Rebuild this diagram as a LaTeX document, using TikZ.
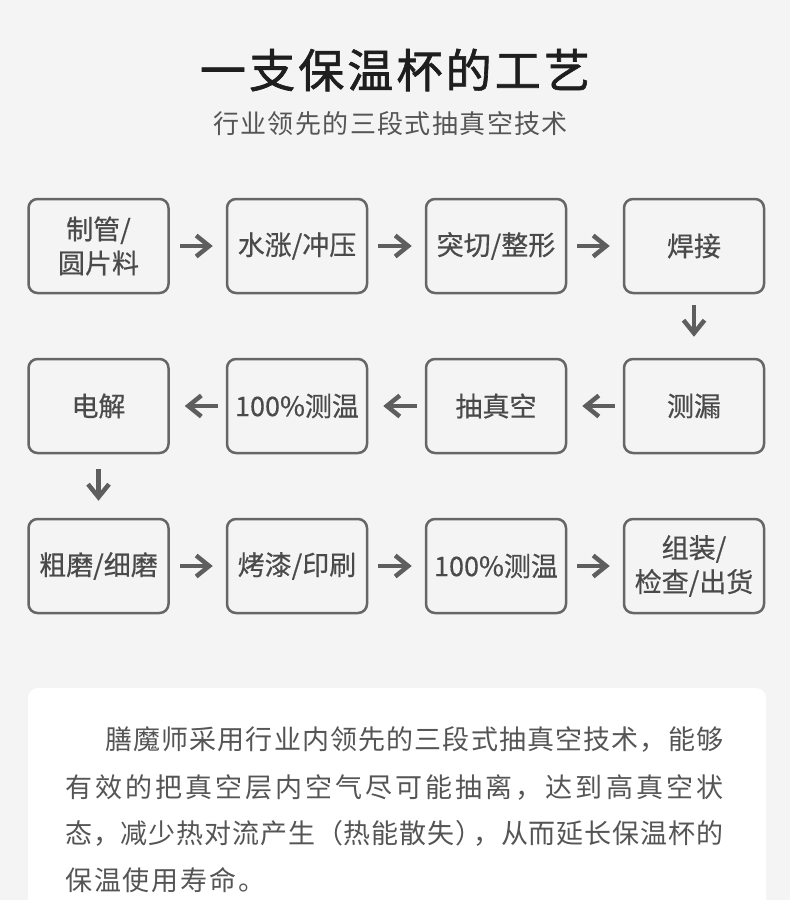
\documentclass[tikz,border=0pt]{standalone}
\usepackage{fontspec}
\setmainfont{Noto Sans CJK SC}
\newfontfamily\titlefont[FakeBold=1.4]{Noto Sans CJK SC}
\newfontfamily\boxfont[FakeBold=0.5]{Noto Sans CJK SC}
\usetikzlibrary{arrows.meta}
\definecolor{bg}{HTML}{F4F4F4}
\definecolor{boxc}{HTML}{666666}
\definecolor{arrc}{HTML}{5E5E5E}
\definecolor{txtc}{HTML}{4A4A4A}
\definecolor{titlec}{HTML}{1E1E1E}
\definecolor{subc}{HTML}{555555}
\definecolor{parac}{HTML}{555555}
\makeatletter
\def\jl@end{\jl@end@}
\def\jline#1{\let\jl@sep\relax\jl@loop#1\jl@end}
\def\jl@loop#1{\ifx#1\jl@end\else\jl@sep\let\jl@sep\hfil#1\expandafter\jl@loop\fi}
\makeatother
\def\negk{\kern-11pt}
\tikzset{
  stepbox/.style={draw=boxc, line width=2.5pt, rounded corners=9pt,
    minimum width=140pt, minimum height=94pt, inner sep=0pt, align=center,
    text=txtc, font=\boxfont\fontsize{27}{34}\selectfont},
  flow/.style={draw=arrc, line width=4.5pt, line join=miter, -{Straight Barb[length=13pt,width=21pt]}},
  para/.style={inner sep=0pt, anchor=west, text=parac, font=\fontsize{27}{30}\selectfont}
}
\begin{document}
\begin{tikzpicture}[x=1pt,y=-1pt]
\useasboundingbox (0,0) rectangle (790,900);
\fill[bg] (0,0) rectangle (790,900);
\fill[white, rounded corners=10pt] (28,688) rectangle (766,930);

\node[inner sep=0pt, text=titlec] (title) at (395,70)
  {\titlefont\fontsize{46}{50}\selectfont\hbox to 390pt{\jline{一支保温杯的工艺}}};
\node[inner sep=0pt, text=subc] (sub) at (390.5,124)
  {\fontsize{26}{28}\selectfont\hbox to 355pt{\jline{行业领先的三段式抽真空技术}}};

% row 1
\node[stepbox] (a1) at (98.5,246) {制管/\\圆片料};
\node[stepbox] (a2) at (297,246) {水涨/冲压};
\node[stepbox] (a3) at (496,246) {突切/整形};
\node[stepbox] (a4) at (694,246) {焊接};
% row 2
\node[stepbox] (b1) at (98.5,406) {电解};
\node[stepbox] (b2) at (297,406) {100\%测温};
\node[stepbox] (b3) at (496,406) {抽真空};
\node[stepbox] (b4) at (694,406) {测漏};
% row 3
\node[stepbox] (c1) at (98.5,566) {粗磨/细磨};
\node[stepbox] (c2) at (297,566) {烤漆/印刷};
\node[stepbox] (c3) at (496,566) {100\%测温};
\node[stepbox] (c4) at (694,566) {组装/\\检查/出货};

\tikzset{rarr/.style={flow, shorten <=10pt, shorten >=13pt},
         larr/.style={flow, shorten <=8pt, shorten >=15pt}}
\draw[rarr] (a1) -- (a2);
\draw[rarr] (a2) -- (a3);
\draw[rarr] (a3) -- (a4);
\draw[flow, shorten <=11pt, shorten >=21pt] (a4) -- (b4);
\draw[larr] (b4) -- (b3);
\draw[larr] (b3) -- (b2);
\draw[larr] (b2) -- (b1);
\draw[flow, shorten <=15pt, shorten >=17pt] (b1) -- (c1);
\draw[rarr] (c1) -- (c2);
\draw[rarr] (c2) -- (c3);
\draw[rarr] (c3) -- (c4);

\node[para] (p1) at (105,740) {\hbox to 618pt{\jline{膳魔师采用行业内领先的三段式抽真空技术，能够}}};
\node[para] (p2) at (65,787) {\hbox to 658pt{\jline{有效的把真空层内空气尽可能抽离，达到高真空状}}};
\node[para] (p3) at (65,833) {\hbox to 658pt{\jline{态，减少热对流产生（热能散失）\negk，从而延长保温杯的}}};
\node[para] (p4) at (65,880) {\hbox to 200pt{\jline{保温使用寿命。}}};
\end{tikzpicture}
\end{document}
